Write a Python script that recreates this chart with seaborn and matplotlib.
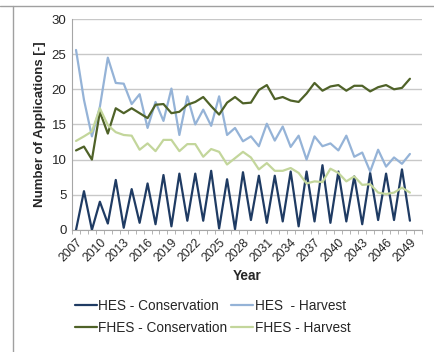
import numpy as np
import pandas as pd
import matplotlib
matplotlib.use("Agg")
import matplotlib.pyplot as plt
from matplotlib.lines import Line2D
import seaborn as sns

# values, one per year 2007..2049
years = list(range(2007, 2050))

hes_conservation = [0.0, 5.5, 0.0, 4.0, 0.9, 7.1, 0.3, 5.8, 1.0, 6.6,
                    0.8, 7.8, 0.5, 8.0, 1.3, 8.0, 1.3, 8.4, 0.2, 7.2,
                    0.1, 8.2, 1.4, 7.7, 1.0, 7.7, 1.2, 8.3, 0.5, 8.3,
                    1.2, 9.2, 1.0, 8.3, 1.2, 7.6, 0.8, 8.1, 1.4, 8.0,
                    1.4, 8.6, 1.3]
hes_harvest = [25.6, 18.5, 13.3, 17.5, 24.5, 20.9, 20.8, 17.9, 19.3, 14.5,
               18.2, 15.5, 20.1, 13.5, 19.0, 15.0, 17.1, 14.8, 19.0, 13.5,
               14.5, 12.6, 13.3, 11.9, 15.1, 12.7, 14.7, 11.8, 13.4, 10.0,
               13.3, 11.9, 12.3, 11.3, 13.4, 10.4, 11.0, 8.3, 11.4, 9.0,
               10.3, 9.4, 10.8]
fhes_conservation = [11.3, 11.85, 10.0, 16.8, 13.7, 17.3, 16.6, 17.3, 16.6, 15.9,
                     17.8, 17.9, 16.6, 16.8, 17.8, 18.2, 18.9, 17.6, 16.4, 18.1,
                     18.9, 18.0, 18.1, 19.9, 20.6, 18.6, 18.9, 18.4, 18.2, 19.4,
                     20.9, 19.8, 20.4, 20.6, 19.8, 20.5, 20.5, 19.7, 20.3, 20.6,
                     20.0, 20.2, 21.5]
fhes_harvest = [12.65, 13.3, 14.0, 17.3, 14.9, 13.9, 13.5, 13.4, 11.4, 12.3,
                11.2, 12.8, 12.8, 11.2, 12.2, 12.2, 10.4, 11.5, 11.1, 9.3,
                10.2, 11.1, 10.3, 8.6, 9.5, 8.4, 8.4, 8.8, 8.1, 6.6,
                6.9, 6.8, 8.7, 8.1, 6.9, 7.6, 6.4, 6.5, 5.3, 5.1,
                5.3, 6.0, 5.3]

series_names = ["HES - Conservation", "HES  - Harvest",
                "FHES - Conservation", "FHES - Harvest"]
colors = ["#1F3B63", "#95B3D7", "#4F6228", "#C3D69B"]
tick_years = list(range(2007, 2050, 3))

# long form table for seaborn
df = pd.DataFrame({
    "Year": years * 4,
    "Value": hes_conservation + hes_harvest + fhes_conservation + fhes_harvest,
    "Series": sum([[n] * len(years) for n in series_names], []),
})

sns.set_style("white")
plt.rcParams["font.family"] = ["Liberation Sans", "DejaVu Sans"]

fig = plt.figure(figsize=(4.34, 3.52), dpi=100)
ax = fig.add_axes([0.166, 0.347, 0.806, 0.599])

sns.lineplot(data=df, x="Year", y="Value", hue="Series",
             hue_order=series_names, palette=colors, linewidth=1.6,
             ax=ax, legend=False)

ax.set_ylim(0, 30)
ax.set_yticks(range(0, 31, 5))
ax.set_xlim(2006.5, 2050.5)
ax.set_xticks(tick_years)
ax.set_xticklabels([str(y) for y in tick_years], rotation=45,
                   ha="right", rotation_mode="anchor", fontsize=8.8)
ax.set_xticks(np.arange(2006.5, 2051, 1), minor=True)
ax.tick_params(axis="x", which="major", length=0, pad=5)
ax.tick_params(axis="x", which="minor", length=3, color="#A6A6A6",
               direction="out", bottom=True)
ax.tick_params(axis="y", labelsize=9.5, length=0, pad=4)

ax.yaxis.grid(True, color="#C8C8C8", linewidth=1)
ax.set_axisbelow(True)
for s in ["top", "right"]:
    ax.spines[s].set_visible(False)
ax.spines["left"].set_color("#A6A6A6")
ax.spines["bottom"].set_color("#A6A6A6")

ax.set_xlabel("Year", fontsize=9.8, fontweight="bold", labelpad=3)
ax.set_ylabel("Number of Applications [-]", fontsize=9.5,
              fontweight="bold", labelpad=4)

# legend in two rows: column-wise fill order
order = [0, 2, 1, 3]
handles = [Line2D([], [], color=colors[i], linewidth=1.6) for i in order]
labels = [series_names[i] for i in order]
fig.legend(handles, labels, ncol=2, frameon=False, fontsize=9.8,
           loc="center", bbox_to_anchor=(0.49, 0.1),
           handlelength=1.6, handletextpad=0.1, columnspacing=0.3,
           labelspacing=0.6)

# frame lines of the surrounding box
fig.add_artist(Line2D([0, 1], [0.983, 0.983], color="#A0A0A0", linewidth=1))
fig.add_artist(Line2D([0.03, 0.03], [0, 0.983], color="#A0A0A0", linewidth=1))

fig.savefig("out.png", dpi=100)
